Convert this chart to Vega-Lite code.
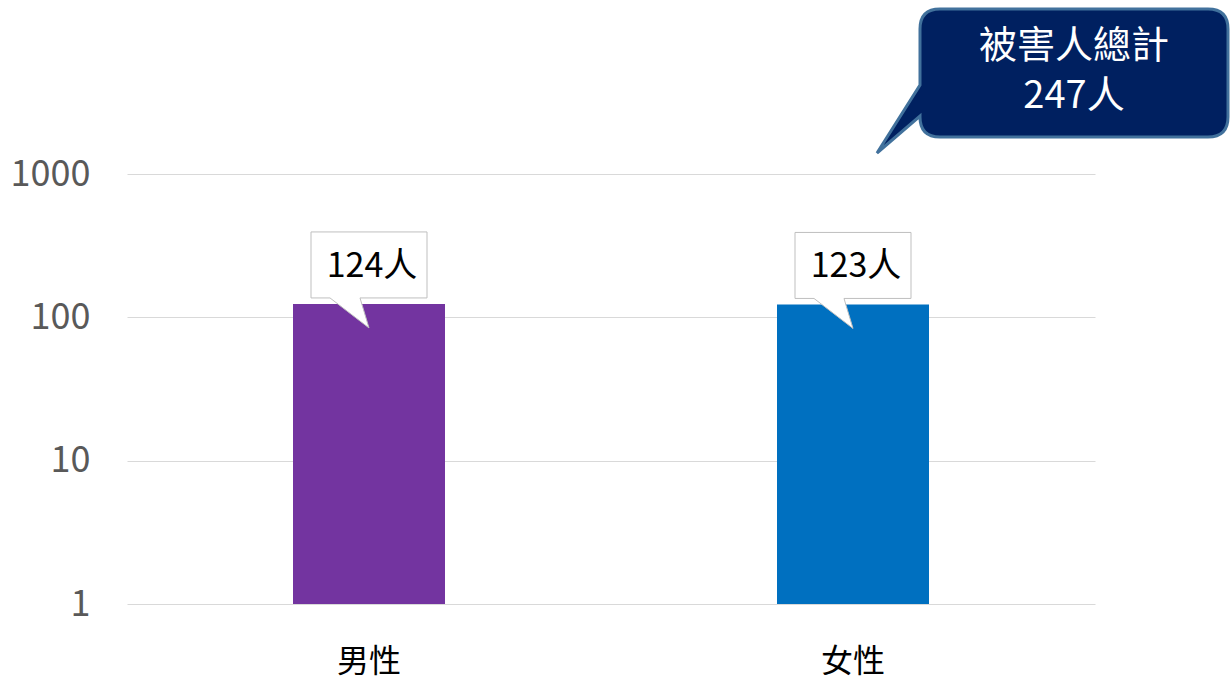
{
  "$schema": "https://vega.github.io/schema/vega-lite/v6.json",
  "width": 968,
  "height": 430,
  "autosize": "none",
  "padding": {"left": 127, "top": 174, "right": 137, "bottom": 82},
  "background": "white",
  "config": {"view": {"stroke": null}, "font": "Noto Sans CJK TC"},
  "data": {
    "values": [
      {"gender": "男性", "count": 124, "label": "124人"},
      {"gender": "女性", "count": 123, "label": "123人"}
    ]
  },
  "encoding": {
    "x": {
      "field": "gender",
      "type": "nominal",
      "sort": ["男性", "女性"],
      "scale": {"paddingInner": 0, "paddingOuter": 0},
      "axis": {
        "title": null,
        "domain": false,
        "ticks": false,
        "labelAngle": 0,
        "labelFontSize": 32,
        "labelColor": "#000000",
        "labelPadding": 42,
        "labelFont": "Noto Sans CJK TC"
      }
    },
    "y": {
      "field": "count",
      "type": "quantitative",
      "stack": null,
      "scale": {"type": "log", "domain": [1, 1000], "nice": false},
      "axis": {
        "title": null,
        "domain": false,
        "ticks": false,
        "values": [1, 10, 100, 1000],
        "format": "d",
        "labelFontSize": 36,
        "labelColor": "#595959",
        "labelPadding": 37,
        "gridColor": "#d9d9d9",
        "gridWidth": 1,
        "labelFont": "Noto Sans CJK TC"
      }
    }
  },
  "layer": [
    {
      "mark": {"type": "bar", "size": 152},
      "encoding": {
        "color": {
          "field": "gender",
          "type": "nominal",
          "scale": {"domain": ["男性", "女性"], "range": ["#7334A0", "#0070C0"]},
          "legend": null
        }
      }
    },
    {
      "mark": {
        "type": "point",
        "shape": "M -58,-72 L 58,-72 L 58,-6 L -9,-6 L 0,24 L -39,-6 L -58,-6 Z",
        "size": 4,
        "filled": true,
        "fill": "#ffffff",
        "stroke": "#bfbfbf",
        "strokeWidth": 1,
        "opacity": 1
      }
    },
    {
      "mark": {
        "type": "text",
        "dy": -37,
        "dx": 3,
        "fontSize": 34,
        "color": "#000000",
        "align": "center",
        "baseline": "middle"
      },
      "encoding": {"text": {"field": "label"}}
    },
    {
      "data": {"values": [{"gender": "女性", "count": 1000, "note": "被害人總計\n247人"}]},
      "mark": {
        "type": "point",
        "shape": "M 87,-165 L 355,-165 Q 375,-165 375,-145 L 375,-57 Q 375,-37 355,-37 L 87,-37 Q 67,-37 67,-57 L 67,-58 L 24,-21 L 67,-89 L 67,-145 Q 67,-165 87,-165 Z",
        "size": 4,
        "filled": true,
        "fill": "#002060",
        "stroke": "#41719C",
        "strokeWidth": 3,
        "opacity": 1
      }
    },
    {
      "data": {"values": [{"gender": "女性", "count": 1000, "note": "被害人總計\n247人"}]},
      "mark": {
        "type": "text",
        "lineBreak": "\n",
        "lineHeight": 50,
        "dx": 221,
        "dy": -127,
        "fontSize": 38,
        "color": "#ffffff",
        "align": "center",
        "baseline": "middle"
      },
      "encoding": {"text": {"field": "note"}}
    }
  ]
}
